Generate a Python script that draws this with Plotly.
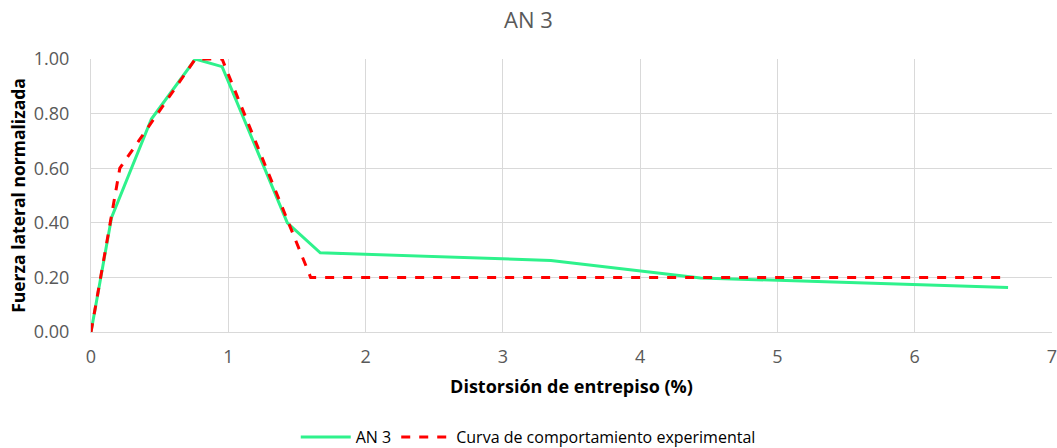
import plotly.graph_objects as go

# Curva AN 3
an3_x = [0.0, 0.15, 0.44, 0.76, 0.955, 1.43, 1.67, 3.35, 4.44, 6.68]
an3_y = [0.0, 0.42, 0.78, 1.00, 0.972, 0.40, 0.29, 0.262, 0.198, 0.163]

# Curva de comportamiento experimental
exp_x = [0.0, 0.21, 0.76, 0.955, 1.60, 6.68]
exp_y = [0.0, 0.60, 1.00, 1.00, 0.20, 0.20]

x_ticks = [0, 1, 2, 3, 4, 5, 6, 7]
y_ticks = [0.0, 0.2, 0.4, 0.6, 0.8, 1.0]

FONT = 'Open Sans, Lato, sans-serif'
GRID = '#d9d9d9'

fig = go.Figure()

fig.add_trace(go.Scatter(
    x=an3_x, y=an3_y,
    mode='lines',
    name='AN 3',
    line=dict(color='#2ef28c', width=3),
))

fig.add_trace(go.Scatter(
    x=exp_x, y=exp_y,
    mode='lines',
    name='Curva de comportamiento experimental',
    line=dict(color='#ff0000', width=3, dash='dash'),
))

fig.update_layout(
    width=1057,
    height=448,
    template='plotly_white',
    plot_bgcolor='white',
    paper_bgcolor='white',
    margin=dict(l=91, r=5, t=59, b=116, autoexpand=False),
    title=dict(
        text='AN 3',
        x=0.5, xanchor='center',
        y=0.955, yanchor='middle',
        font=dict(family=FONT, size=22, color='#595959'),
    ),
    font=dict(family=FONT, size=15, color='#595959'),
    legend=dict(
        orientation='h',
        x=0.455, xanchor='center',
        y=-0.385, yanchor='middle',
        font=dict(family=FONT, size=16, color='#000000'),
        itemwidth=50,
    ),
    showlegend=True,
)

fig.update_xaxes(
    range=[0, 7],
    tickvals=x_ticks,
    automargin=False,
    ticklabeloverflow='allow',
    showgrid=True,
    gridcolor=GRID,
    gridwidth=1,
    showline=True,
    linecolor=GRID,
    linewidth=1,
    zeroline=False,
    ticks='',
    ticklabelstandoff=8,
    tickfont=dict(family=FONT, size=18, color='#595959'),
    title=dict(
        text='<b>Distorsión de entrepiso (%)</b>',
        font=dict(family=FONT, size=18, color='#000000'),
        standoff=13,
    ),
)

fig.update_yaxes(
    range=[0, 1.0],
    tickvals=y_ticks,
    tickformat='.2f',
    automargin=False,
    showgrid=True,
    gridcolor=GRID,
    gridwidth=1,
    showline=True,
    linecolor=GRID,
    linewidth=1,
    zeroline=False,
    ticks='',
    ticklabelstandoff=17,
    tickfont=dict(family=FONT, size=18, color='#595959'),
    title=dict(
        text='<b>Fuerza lateral normalizada</b>',
        font=dict(family=FONT, size=17.5, color='#000000'),
        standoff=3,
    ),
)

# quitar el margen por defecto del body para que la figura ocupe la ventana
fig.write_html(
    'out.html',
    config={'displayModeBar': False},
    post_script="document.body.style.margin='0';",
)
